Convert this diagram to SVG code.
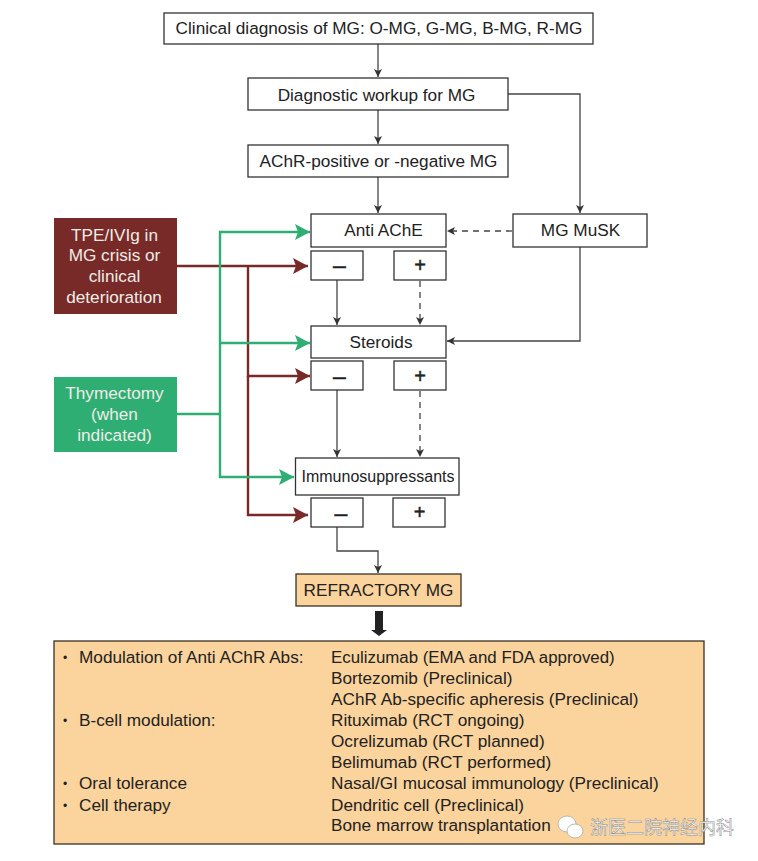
<svg xmlns="http://www.w3.org/2000/svg" width="758" height="861" viewBox="0 0 758 861">
<style>
text{font-family:"Liberation Sans",Arial,sans-serif;font-size:17.2px;fill:#222}
.c{text-anchor:middle}
.b{fill:#fff;stroke:#333;stroke-width:1.3}
.o{fill:#fbd39c;stroke:#3a3226;stroke-width:1.3}
.w{fill:#f1ece8}
.k{fill:none;stroke:#444;stroke-width:1.3}
.d{stroke-dasharray:6 5}
.g{fill:none;stroke:#2fae74;stroke-width:2.4}
.r{fill:none;stroke:#772a27;stroke-width:2.4}
.s{font-size:23px;stroke:#222;stroke-width:.5}
.p{font-size:20px;stroke:#222;stroke-width:.5}
.u{font-size:12px}
.wm{font-family:"Noto Sans CJK SC","Liberation Sans",sans-serif;font-size:18px;fill:#fff;stroke:#8a8a8a;stroke-width:.5}
</style>
<defs>
<marker id="a" markerUnits="userSpaceOnUse" markerWidth="10" markerHeight="10" refX="8" refY="5" orient="auto"><path d="M0 1L8 5L0 9L2 5Z" fill="#333"/></marker>
<marker id="ag" markerUnits="userSpaceOnUse" markerWidth="16" markerHeight="18" refX="15" refY="9" orient="auto"><path d="M0 1L15 9L0 17L3 9Z" fill="#2fae74"/></marker>
<marker id="ar" markerUnits="userSpaceOnUse" markerWidth="16" markerHeight="18" refX="15" refY="9" orient="auto"><path d="M0 1L15 9L0 17L3 9Z" fill="#772a27"/></marker>
</defs>
<rect width="758" height="861" fill="#fff"/>
<g id="connectors">
<path class="k" marker-end="url(#a)" d="M378 44V77"/>
<path class="k" marker-end="url(#a)" d="M378 110V144"/>
<path class="k" marker-end="url(#a)" d="M378 177V213"/>
<path class="k" marker-end="url(#a)" d="M508 94H580V213"/>
<path class="k d" marker-end="url(#a)" d="M512 231H447"/>
<path class="k" marker-end="url(#a)" d="M580 247V341H447"/>
<path class="k" marker-end="url(#a)" d="M337 280V325"/>
<path class="k d" marker-end="url(#a)" d="M420 281V325"/>
<path class="k" marker-end="url(#a)" d="M337 390V457"/>
<path class="k d" marker-end="url(#a)" d="M420 391V457"/>
<path class="k" marker-end="url(#a)" d="M337 527V551H378V573"/>
<path d="M375 611H383V630H387L379 636L371 630H375Z" fill="#222"/>
<path class="r" marker-end="url(#ar)" d="M177 266H308"/>
<path class="r" marker-end="url(#ar)" d="M248 266V376H310"/>
<path class="r" marker-end="url(#ar)" d="M248 376V515H308"/>
<path class="g" d="M177 414H220"/>
<path class="g" marker-end="url(#ag)" d="M220 414V232H310"/>
<path class="g" marker-end="url(#ag)" d="M220 343H310"/>
<path class="g" marker-end="url(#ag)" d="M220 414V477H294"/>
</g>
<g id="n-clinical"><rect class="b" x="164" y="13" width="429" height="31"/><text class="c" x="379" y="34">Clinical diagnosis of MG: O-MG, G-MG, B-MG, R-MG</text></g>
<g id="n-workup"><rect class="b" x="248" y="78" width="260" height="32"/><text class="c" x="376.500" y="101">Diagnostic workup for MG</text></g>
<g id="n-achr"><rect class="b" x="248" y="145" width="260" height="32"/><text class="c" x="378.500" y="167">AChR-positive or -negative MG</text></g>
<g id="n-anti"><rect class="b" x="311" y="214" width="135" height="33"/><text class="c" x="383.500" y="236">Anti AChE</text></g>
<g id="n-musk"><rect class="b" x="513" y="214" width="134" height="33"/><text class="c" x="580.500" y="236">MG MuSK</text></g>
<g id="n-m1"><rect class="b" x="311" y="251" width="52" height="29"/><text class="c s" x="339.500" y="273">–</text></g>
<g id="n-p1"><rect class="b" x="394" y="251" width="52" height="29"/><text class="c p" x="420" y="272">+</text></g>
<g id="n-steroids"><rect class="b" x="311" y="326" width="135" height="32"/><text class="c" x="381" y="348">Steroids</text></g>
<g id="n-m2"><rect class="b" x="311" y="361" width="52" height="29"/><text class="c s" x="339.500" y="384">–</text></g>
<g id="n-p2"><rect class="b" x="394" y="361" width="52" height="29"/><text class="c p" x="420" y="383">+</text></g>
<g id="n-immuno"><rect class="b" x="295.500" y="458" width="163.500" height="37"/><text class="c" x="378" y="482" style="font-size:16px">Immunosuppressants</text></g>
<g id="n-m3"><rect class="b" x="311" y="498" width="52" height="29"/><text class="c s" x="341" y="521">–</text></g>
<g id="n-p3"><rect class="b" x="393" y="498" width="52" height="29"/><text class="c p" x="419.500" y="519">+</text></g>
<g id="n-tpe"><rect x="54" y="218" width="123" height="96" fill="#772a27"/><text class="c w" x="114.500" y="241">TPE/IVIg in</text><text class="c w" x="114.500" y="261">MG crisis or</text><text class="c w" x="114.500" y="282">clinical</text><text class="c w" x="114" y="303">deterioration</text></g>
<g id="n-thymectomy"><rect x="54" y="377" width="123" height="75" fill="#2fae74"/><text class="c w" x="114.500" y="399">Thymectomy</text><text class="c w" x="114.500" y="420">(when</text><text class="c w" x="114.500" y="441">indicated)</text></g>
<g id="n-refractory"><rect class="o" x="296" y="574" width="165" height="32"/><text class="c" x="378.500" y="596">REFRACTORY MG</text></g>
<g id="n-therapies"><rect class="o" x="54" y="641" width="650" height="203"/>
<text class="u" x="63" y="662">•</text><text x="79" y="663">Modulation of Anti AChR Abs:</text>
<text class="u" x="63" y="725">•</text><text x="79" y="726">B-cell modulation:</text>
<text class="u" x="63" y="788">•</text><text x="79" y="789">Oral tolerance</text>
<text class="u" x="63" y="810">•</text><text x="79" y="811">Cell therapy</text>
<text x="331" y="663" style="font-size:16.850px">Eculizumab (EMA and FDA approved)</text>
<text x="331" y="684">Bortezomib (Preclinical)</text>
<text x="331" y="705">AChR Ab-specific apheresis (Preclinical)</text>
<text x="331" y="726">Rituximab (RCT ongoing)</text>
<text x="331" y="747">Ocrelizumab (RCT planned)</text>
<text x="331" y="768">Belimumab (RCT performed)</text>
<text x="331" y="789">Nasal/GI mucosal immunology (Preclinical)</text>
<text x="331" y="811">Dendritic cell (Preclinical)</text>
<text x="331" y="831">Bone marrow transplantation</text>
</g>
<g id="watermark">
<ellipse cx="567" cy="824" rx="9" ry="8" fill="#fff" stroke="#aaa" stroke-width=".8"/>
<ellipse cx="575" cy="831" rx="8" ry="7" fill="#fff" stroke="#aaa" stroke-width=".8"/>
<text class="wm" x="590" y="834">浙医二院神经内科</text>
</g>
</svg>
